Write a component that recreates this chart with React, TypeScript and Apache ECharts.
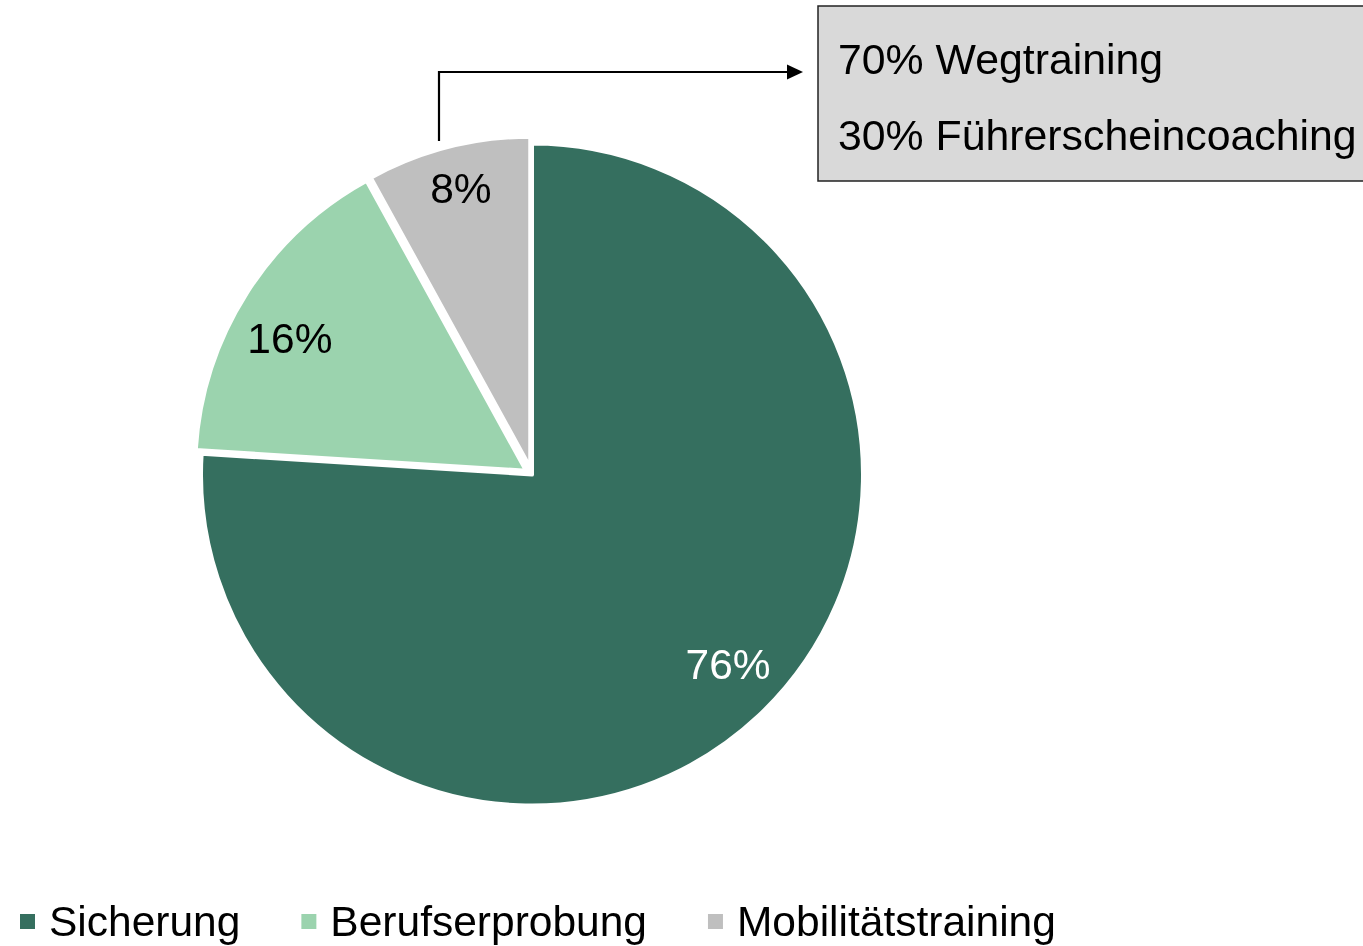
import React, { useEffect, useRef } from "react";
import * as echarts from "echarts";

const categories = ["Sicherung", "Berufserprobung", "Mobilitätstraining"];
const values = [76, 16, 8];
const colors = ["#356F5F", "#9BD3AE", "#BFBFBF"];
const labelColors = ["#FFFFFF", "#000000", "#000000"];
const labelNudges = [[3, -16], [-4, 15], [-1, -13]];
const exploded = [false, true, true];
const boxLines = ["70% Wegtraining", "30% Führerscheincoaching"];

const FONT = "'Liberation Sans', Arial, sans-serif";

export default function App() {
  const ref = useRef<HTMLDivElement>(null);
  useEffect(() => {
    document.body.style.margin = "0";
    const chart = echarts.init(ref.current!, null, { renderer: "svg" });
    const mainData = categories.map((name, i) => ({
      name,
      value: values[i],
      selected: exploded[i],
      itemStyle: { color: colors[i] },
    }));
    const labelData = categories.map((name, i) => ({
      name,
      value: values[i],
      itemStyle: { color: "rgba(0,0,0,0)" },
      label: { color: labelColors[i], offset: labelNudges[i] },
    }));
    chart.setOption({
      animation: false,
      legend: {
        data: categories,
        left: 18,
        top: 900,
        padding: 0,
        itemWidth: 17,
        itemHeight: 17,
        itemGap: 59,
        icon: "rect",
        selectedMode: false,
        textStyle: {
          fontFamily: FONT,
          fontSize: 42.5,
          color: "#000",
          lineHeight: 42,
          padding: [0, 0, 0, 8],
        },
      },
      series: [
        {
          type: "pie",
          center: [532, 474.5],
          radius: [0, 331],
          startAngle: 90,
          clockwise: true,
          selectedMode: "multiple",
          selectedOffset: 7,
          silent: true,
          label: { show: false },
          labelLine: { show: false },
          itemStyle: { borderColor: "#FFFFFF", borderWidth: 4 },
          emphasis: { disabled: true },
          data: mainData,
        },
        {
          type: "pie",
          center: [532, 474.5],
          radius: [0, 558],
          startAngle: 90,
          clockwise: true,
          silent: true,
          z: 5,
          label: {
            show: true,
            position: "inside",
            formatter: "{c}%",
            fontFamily: FONT,
            fontSize: 42.5,
          },
          labelLine: { show: false },
          emphasis: { disabled: true },
          data: labelData,
        },
      ],
      graphic: [
        {
          type: "polyline",
          shape: { points: [[439, 141], [439, 72], [789, 72]] },
          style: { stroke: "#000", lineWidth: 2.2, fill: null },
          z: 10,
        },
        {
          type: "polygon",
          shape: { points: [[787, 64.5], [803, 72], [787, 79.5]] },
          style: { fill: "#000" },
          z: 10,
        },
        {
          type: "rect",
          shape: { x: 818, y: 6, width: 600, height: 175 },
          style: { fill: "#D9D9D9", stroke: "#222", lineWidth: 1.5 },
          z: 10,
        },
        ...boxLines.map((t, i) => ({
          type: "text",
          x: 838,
          y: 59 + i * 76,
          style: {
            text: t,
            fontFamily: FONT,
            fontSize: 42.8,
            fill: "#000",
            verticalAlign: "middle",
            align: "left",
          },
          z: 11,
        })),
      ],
    });
    return () => chart.dispose();
  }, []);
  return (
    <div
      ref={ref}
      style={{ position: "fixed", left: 0, top: 0, width: 1363, height: 946 }}
    />
  );
}
